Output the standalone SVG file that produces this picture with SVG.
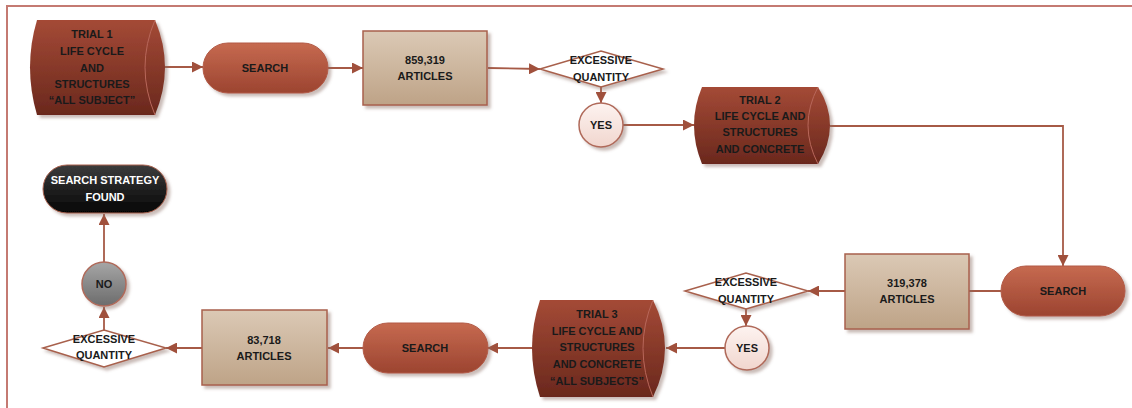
<svg xmlns="http://www.w3.org/2000/svg" width="1132" height="408" viewBox="0 0 1132 408">
<defs>
<linearGradient id="gTrial" x1="0" y1="0" x2="0" y2="1"><stop offset="0" stop-color="#a44a36"/><stop offset="1" stop-color="#6a281d"/></linearGradient>
<linearGradient id="gSearch" x1="0" y1="0" x2="0" y2="1"><stop offset="0" stop-color="#c66a50"/><stop offset="1" stop-color="#9c4430"/></linearGradient>
<linearGradient id="gBox" x1="0" y1="0" x2="0" y2="1"><stop offset="0" stop-color="#dbc9b5"/><stop offset="1" stop-color="#bea387"/></linearGradient>
<linearGradient id="gYes" x1="0" y1="0" x2="0" y2="1"><stop offset="0" stop-color="#fdf3f0"/><stop offset="1" stop-color="#f1d6ce"/></linearGradient>
<linearGradient id="gNo" x1="0" y1="0" x2="0" y2="1"><stop offset="0" stop-color="#a6a6a6"/><stop offset="1" stop-color="#6c6c6c"/></linearGradient>
<linearGradient id="gEnd" x1="0" y1="0" x2="0" y2="1"><stop offset="0" stop-color="#3c3c3c"/><stop offset="1" stop-color="#050505"/></linearGradient>
<filter id="sh" x="-10%" y="-10%" width="125%" height="130%"><feDropShadow dx="3" dy="3" stdDeviation="1.5" flood-color="#8a6a60" flood-opacity="0.45"/></filter>
<marker id="ah" markerUnits="userSpaceOnUse" markerWidth="11" markerHeight="11" refX="11" refY="5.5" orient="auto"><path d="M0,0 L11,5.5 L0,11 z" fill="#a0503c"/></marker>
</defs>
<style>
.t{font-family:"Liberation Sans",Arial,sans-serif;font-weight:bold;font-size:11px;fill:#1a1a1a;text-anchor:middle}
.w{fill:#ffffff}
.trial{fill:url(#gTrial);filter:url(#sh)}
.inner{fill:none;stroke:#b8675a;stroke-width:1}
.search{fill:url(#gSearch);stroke:#b25a46;stroke-width:1;filter:url(#sh)}
.box{fill:url(#gBox);stroke:#a8604c;stroke-width:1.5;filter:url(#sh)}
.dia{fill:#ffffff;stroke:#a8604c;stroke-width:1.5;filter:url(#sh)}
.yes{fill:url(#gYes);stroke:#b06a5a;stroke-width:1.5;filter:url(#sh)}
.no{fill:url(#gNo);stroke:#b06a5a;stroke-width:1.5;filter:url(#sh)}
.end{fill:url(#gEnd);stroke:#a8604c;stroke-width:1;filter:url(#sh)}
.c{fill:none;stroke:#a65a46;stroke-width:1.8;marker-end:url(#ah)}
.frame{fill:none;stroke:#c47a72;stroke-width:2}
</style>
<path class="frame" d="M7,408 L7,6 L1132,6"/>

<g id="connectors">
<path class="c" d="M155,67 L203,67"/>
<path class="c" d="M328,68 L363,68"/>
<path class="c" d="M488,68 L540,69"/>
<path class="c" d="M601,87 L601,103"/>
<path class="c" d="M623,125 L694,125"/>
<path class="c" d="M830,126 L1063,126 L1063,266"/>
<path class="c" d="M1001,291 L870,291"/>
<path class="c" d="M845,291 L808,291"/>
<path class="c" d="M746,309 L746,326"/>
<path class="c" d="M725,348 L666,348"/>
<path class="c" d="M532,348 L487,348"/>
<path class="c" d="M363,348 L328,348"/>
<path class="c" d="M202,348 L166,348"/>
<path class="c" d="M104,330 L104,307"/>
<path class="c" d="M104,262 L104,214"/>
</g>

<g id="trial1">
<path class="trial" d="M37,20 L155,20 Q175,67 155,115 L37,115 Q23,67 37,20 z"/>
<path class="inner" d="M155,20 Q135,67 155,115"/>
<text class="t" x="92" y="38">TRIAL 1</text>
<text class="t" x="92" y="55">LIFE CYCLE</text>
<text class="t" x="92" y="72">AND</text>
<text class="t" x="92" y="88">STRUCTURES</text>
<text class="t" x="92" y="104">“ALL SUBJECT”</text>
</g>

<g id="search1">
<rect class="search" x="203" y="43" width="125" height="50" rx="25"/>
<text class="t" x="265" y="72">SEARCH</text>
</g>

<g id="articles1">
<rect class="box" x="363" y="31" width="124" height="74"/>
<text class="t" x="425" y="64">859,319</text>
<text class="t" x="425" y="80">ARTICLES</text>
</g>

<g id="decision1">
<path class="dia" d="M540,69 L601,51 L663,69 L601,87 z"/>
<text class="t" x="601" y="64">EXCESSIVE</text>
<text class="t" x="601" y="81">QUANTITY</text>
</g>

<g id="yes1">
<circle class="yes" cx="601" cy="125" r="22"/>
<text class="t" x="601" y="129">YES</text>
</g>

<g id="trial2">
<path class="trial" d="M702,87 L818,87 Q842,125 818,164 L702,164 Q686,125 702,87 z"/>
<path class="inner" d="M818,87 Q798,125 818,164"/>
<text class="t" x="760" y="104">TRIAL 2</text>
<text class="t" x="760" y="120">LIFE CYCLE AND</text>
<text class="t" x="760" y="136">STRUCTURES</text>
<text class="t" x="760" y="153">AND CONCRETE</text>
</g>

<g id="search2">
<rect class="search" x="1001" y="266" width="124" height="50" rx="25"/>
<text class="t" x="1063" y="295">SEARCH</text>
</g>

<g id="articles2">
<rect class="box" x="845" y="254" width="124" height="75"/>
<text class="t" x="907" y="287">319,378</text>
<text class="t" x="907" y="303">ARTICLES</text>
</g>

<g id="decision2">
<path class="dia" d="M685,291 L746,273 L808,291 L746,309 z"/>
<text class="t" x="746" y="286">EXCESSIVE</text>
<text class="t" x="746" y="303">QUANTITY</text>
</g>

<g id="yes2">
<circle class="yes" cx="747" cy="348" r="22"/>
<text class="t" x="747" y="352">YES</text>
</g>

<g id="trial3">
<path class="trial" d="M540,300 L653,300 Q677,348 653,397 L540,397 Q524,348 540,300 z"/>
<path class="inner" d="M653,300 Q633,348 653,397"/>
<text class="t" x="597" y="318">TRIAL 3</text>
<text class="t" x="597" y="335">LIFE CYCLE AND</text>
<text class="t" x="597" y="351">STRUCTURES</text>
<text class="t" x="597" y="368">AND CONCRETE</text>
<text class="t" x="597" y="385">“ALL SUBJECTS”</text>
</g>

<g id="search3">
<rect class="search" x="363" y="323" width="125" height="50" rx="25"/>
<text class="t" x="425" y="352">SEARCH</text>
</g>

<g id="articles3">
<rect class="box" x="202" y="310" width="125" height="75"/>
<text class="t" x="264" y="344">83,718</text>
<text class="t" x="264" y="360">ARTICLES</text>
</g>

<g id="decision3">
<path class="dia" d="M43,348 L104,330 L166,348 L104,367 z"/>
<text class="t" x="104" y="343">EXCESSIVE</text>
<text class="t" x="104" y="359">QUANTITY</text>
</g>

<g id="no">
<circle class="no" cx="104" cy="284" r="22"/>
<text class="t" x="104" y="288">NO</text>
</g>

<g id="found">
<rect class="end" x="43" y="165" width="124" height="48" rx="24"/>
<text class="t w" x="105" y="184">SEARCH STRATEGY</text>
<text class="t w" x="105" y="201">FOUND</text>
</g>
</svg>
